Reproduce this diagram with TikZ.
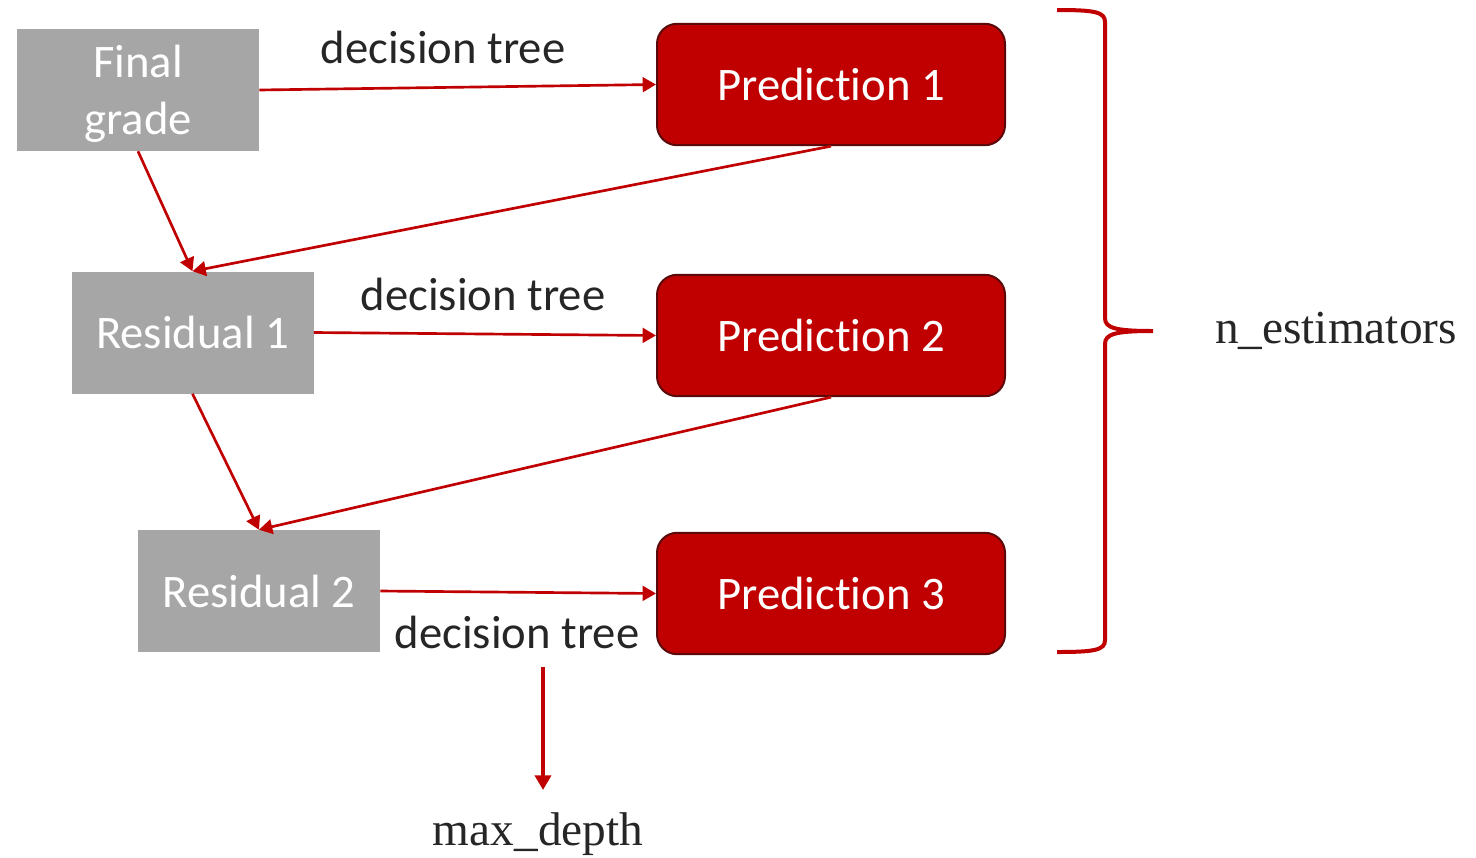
\documentclass[tikz,border=0pt]{standalone}
\usepackage{fontspec}
\setmainfont{Liberation Serif}
\newfontfamily\calfont[Ligatures=NoCommon]{Carlito}
\usetikzlibrary{arrows.meta}
\definecolor{boxgray}{HTML}{A6A6A6}
\definecolor{predred}{HTML}{C00000}
\definecolor{predborder}{HTML}{5A0A0A}
\definecolor{txtdark}{HTML}{262626}
\newcommand\predword{Predict\kern0pt ion}
\begin{document}
\begin{tikzpicture}[x=0.75pt,y=-0.75pt,
  graybox/.style={fill=boxgray, text=white, minimum width=181.5pt, minimum height=91.5pt, inner sep=0pt,
    font=\calfont\fontsize{35}{43.5}\selectfont, align=center},
  predbox/.style={fill=predred, draw=predborder, line width=1.5pt, rounded corners=15pt, text=white,
    minimum width=261pt, minimum height=91pt, inner sep=0pt, font=\calfont\fontsize{35}{42}\selectfont},
  conn/.style={draw=predred, line width=2pt, -{Triangle[length=10pt,width=11pt]}},
  lbl/.style={text=txtdark, font=\calfont\fontsize{35}{42}\selectfont, anchor=base, inner sep=0pt},
  serlbl/.style={text=txtdark, font=\fontsize{35.5}{42}\selectfont, anchor=base, inner sep=0pt}]
\useasboundingbox (0,0) rectangle (1476,857);
\node[graybox] (fg) at (138,90) {\raisebox{-3.5pt}[\height][\depth]{\begin{tabular}{@{}c@{}}Final\\[-0.5pt]grade\end{tabular}}};
\node[graybox] (r1) at (192.5,332.5) {Residual 1};
\node[graybox] (r2) at (259,591) {Residual 2};
\node[predbox] (p1) at (831,84.5) {\predword{} 1};
\node[predbox] (p2) at (831,335.5) {\predword{} 2};
\node[predbox] (p3) at (831,593.5) {\predword{} 3};
\node[lbl] (dt1) at (443,63) {decision tree};
\node[lbl] (dt2) at (483,310) {decision tree};
\node[lbl] (dt3) at (517,648) {decision tree};
\node[serlbl] (ne) at (1336,343) {n\_estimators};
\node[serlbl] (md) at (538,845) {max\_depth};
\draw[conn] (fg.east) -- (p1.west);
\draw[conn] (fg.south) -- (r1.north);
\draw[conn] (p1.south) -- (r1.north);
\draw[conn] (r1.east) -- (p2.west);
\draw[conn] (r1.south) -- (r2.north);
\draw[conn] (p2.south) -- (r2.north);
\draw[conn] (r2.east) -- (p3.west);
\coordinate (vs) at (543,667);
\coordinate (ve) at (543,790);
\draw[draw=predred, line width=3pt, -{Triangle[length=11pt,width=12pt]}] (vs) -- (ve);
\draw[predred, line width=3pt] (1057,10) .. controls (1095,10) and (1105,12) .. (1105,22) -- (1105,318)
  .. controls (1105,328) and (1115,331) .. (1153,331)
  .. controls (1115,331) and (1105,334) .. (1105,344) -- (1105,640)
  .. controls (1105,650) and (1095,652) .. (1057,652);
\end{tikzpicture}
\end{document}
